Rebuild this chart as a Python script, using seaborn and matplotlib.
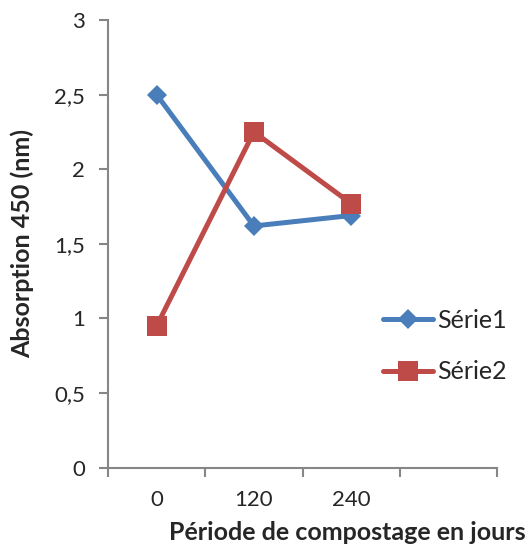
import matplotlib
matplotlib.use("Agg")
import matplotlib.pyplot as plt
from matplotlib.ticker import FixedLocator, FuncFormatter
import seaborn as sns
import pandas as pd

# Composting period (days) and absorbance readings
periods = ["0", "120", "240"]
serie1 = [2.50, 1.62, 1.69]
serie2 = [0.95, 2.25, 1.77]
series_names = ["Série1", "Série2"]
y_ticks = [0, 0.5, 1, 1.5, 2, 2.5, 3]

df = pd.DataFrame({
    "periode": periods * 2,
    "absorption": serie1 + serie2,
    "serie": [series_names[0]] * 3 + [series_names[1]] * 3,
})

sns.set_theme(style="white")
plt.rcParams["font.family"] = ["Lato", "DejaVu Sans"]

fig = plt.figure(figsize=(5.31, 5.49), dpi=100)
ax = fig.add_axes([0.2034, 0.148, 0.7326, 0.8156])

palette = {"Série1": "#4A7EBB", "Série2": "#BE4B48"}
marker_sizes = {"Série1": 10, "Série2": 15}
sns.lineplot(data=df, x="periode", y="absorption", hue="serie", style="serie",
             palette=palette, markers={"Série1": "D", "Série2": "s"},
             dashes=False, linewidth=3.6, markeredgewidth=0,
             sort=False, ax=ax, legend=False)

for line, name in zip(ax.get_lines(), series_names):
    line.set_markersize(marker_sizes[name])

ax.set_xlim(-0.5, 3.5)
ax.set_ylim(0, 3)

grey = "#868686"
for side in ["top", "right"]:
    ax.spines[side].set_visible(False)
for side in ["left", "bottom"]:
    ax.spines[side].set_color(grey)
    ax.spines[side].set_linewidth(1.5)

# category boundaries carry the tick marks, centres carry the labels
ax.xaxis.set_major_locator(FixedLocator([-0.5, 0.5, 1.5, 2.5, 3.5]))
ax.xaxis.set_major_formatter(FuncFormatter(lambda v, p: ""))
ax.xaxis.set_minor_locator(FixedLocator([0, 1, 2]))
ax.xaxis.set_minor_formatter(FuncFormatter(lambda v, p: periods[int(round(v))]))
ax.tick_params(axis="x", which="major", direction="out", length=6.5, width=1.5,
               color=grey, bottom=True)
ax.tick_params(axis="x", which="minor", length=0, pad=16, labelsize=16,
               bottom=True)

ax.set_yticks(y_ticks)
ax.yaxis.set_major_formatter(FuncFormatter(
    lambda v, p: ("%g" % v).replace(".", ",")))
ax.tick_params(axis="y", direction="out", length=6.5, width=1.5, color=grey,
               left=True, labelsize=16, pad=10)

ax.set_xlabel("Période de compostage en jours", fontsize=18, fontweight="bold")
ax.xaxis.set_label_coords(0.616, -0.12)
ax.set_ylabel("Absorption 450 (nm)", fontsize=18, fontweight="bold")
ax.yaxis.set_label_coords(-0.19, 0.50)

handles = [
    plt.Line2D([], [], color=palette["Série1"], lw=3.6, marker="D",
               ms=marker_sizes["Série1"], mew=0),
    plt.Line2D([], [], color=palette["Série2"], lw=3.6, marker="s",
               ms=marker_sizes["Série2"], mew=0),
]
ax.legend(handles, series_names, loc="center left", bbox_to_anchor=(0.708, 0.272),
          frameon=False, fontsize=18, handlelength=2.0, handletextpad=0.15,
          labelspacing=1.15, borderaxespad=0, borderpad=0)

fig.savefig("out.png", dpi=100)
